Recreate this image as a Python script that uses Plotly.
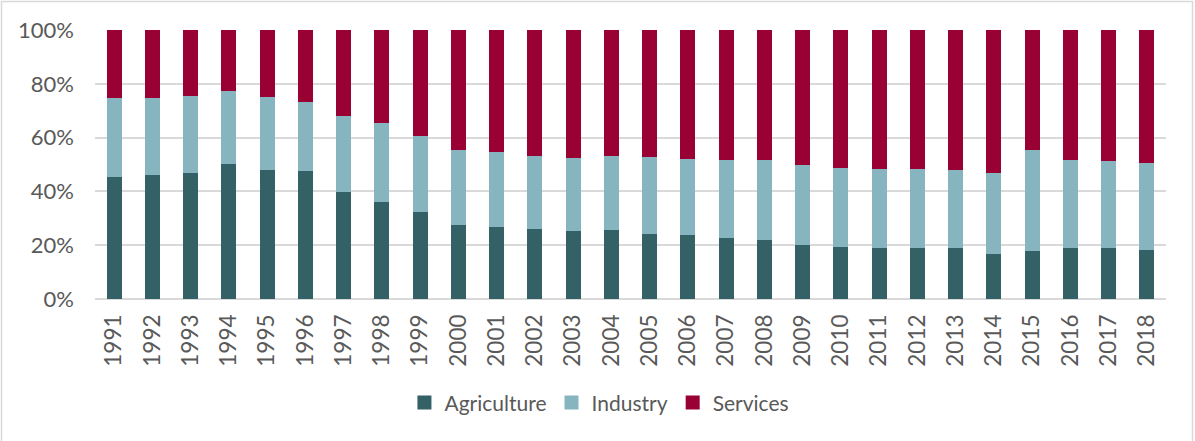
import plotly.graph_objects as go

years = [str(y) for y in range(1991, 2019)]
agriculture = [45.5, 46.2, 47.0, 50.3, 48.1, 47.7, 39.6, 36.2, 32.3, 27.6, 26.9, 26.0, 25.1, 25.7,
               24.2, 23.8, 22.8, 22.1, 19.9, 19.5, 19.1, 19.1, 18.8, 16.9, 17.7, 19.1, 18.9, 18.4]
industry = [29.1, 28.7, 28.3, 27.0, 27.1, 25.4, 28.3, 29.2, 28.4, 27.7, 27.9, 27.3, 27.5, 27.4,
            28.6, 28.1, 28.8, 29.5, 29.9, 29.1, 29.4, 29.2, 29.1, 30.1, 37.6, 32.4, 32.3, 32.1]
services = [25.4, 25.1, 24.7, 22.7, 24.8, 26.9, 32.1, 34.6, 39.3, 44.7, 45.2, 46.7, 47.4, 46.9,
            47.2, 48.1, 48.4, 48.4, 50.2, 51.4, 51.5, 51.7, 52.1, 53.0, 44.7, 48.5, 48.8, 49.5]

series = [("Agriculture", agriculture, "#336166"),
          ("Industry", industry, "#86B5C0"),
          ("Services", services, "#990033")]

FONT = "Lato"
GRAY = "#595959"

fig = go.Figure()
for name, vals, color in series:
    fig.add_trace(go.Bar(x=years, y=vals, name=name, marker=dict(color=color, line=dict(width=0)),
                         showlegend=False))
for name, vals, color in series:
    fig.add_trace(go.Scatter(x=[None], y=[None], mode="markers", name=name,
                             marker=dict(symbol="square", size=14, color=color)))

fig.update_layout(
    width=1195, height=441,
    margin=dict(l=95, r=29, t=29.5, b=141.5),
    barmode="stack", barnorm="percent", bargap=0.61,
    plot_bgcolor="white", paper_bgcolor="white",
    font=dict(family=FONT, color=GRAY, size=21),
    legend=dict(orientation="h", x=0.471, xanchor="center", y=-0.386, yanchor="middle",
                font=dict(size=21, color=GRAY, family=FONT), itemwidth=30,
                traceorder="normal"),
    xaxis=dict(type="category", tickangle=-90, showgrid=False, showline=False,
               tickfont=dict(size=22.5, color=GRAY), ticklabelstandoff=10),
    yaxis=dict(range=[0, 100], dtick=20, ticksuffix="%", showgrid=True, gridcolor="#D9D9D9",
               gridwidth=1.5, zeroline=True, zerolinecolor="#D9D9D9", zerolinewidth=2,
               showline=False, tickfont=dict(size=22, color=GRAY), ticklabelstandoff=20),
    shapes=[dict(type="rect", xref="paper", yref="paper",
                 x0=(1.5 - 95) / 1071, x1=(1192.5 - 95) / 1071,
                 y0=(299.5 - 445) / 270, y1=(299.5 - 1) / 270,
                 line=dict(color="#D9D9D9", width=1.5), fillcolor="rgba(0,0,0,0)", layer="below")],
)

fig.write_html("out.html", config={"displayModeBar": False},
               post_script="document.body.style.margin='0';document.body.style.overflow='hidden';")
